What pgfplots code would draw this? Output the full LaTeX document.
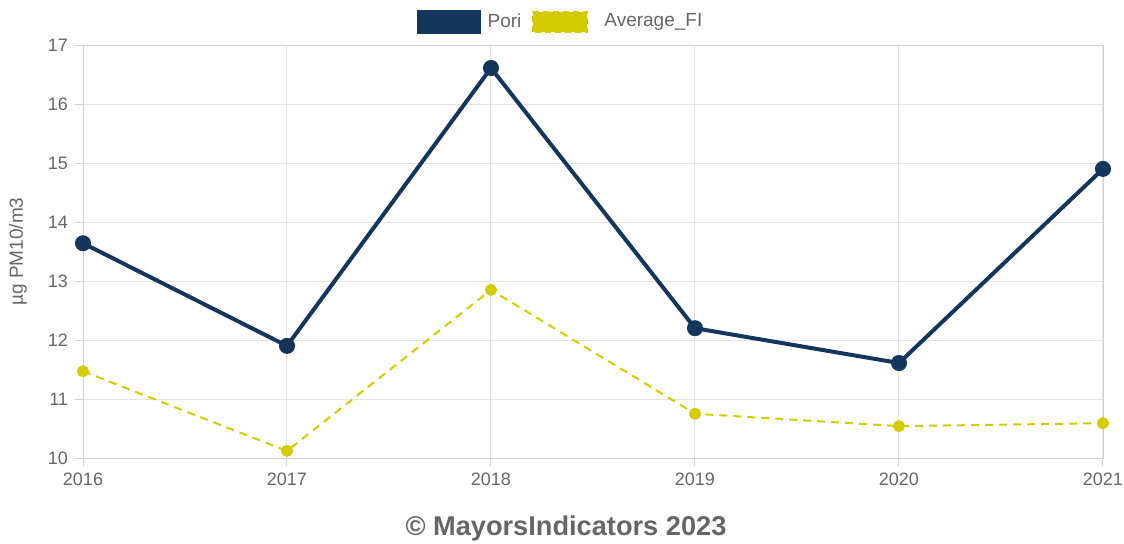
\documentclass[border=0pt]{standalone}
\usepackage{fontspec}
\setmainfont{Liberation Sans}
\usepackage{pgfplots}
\pgfplotsset{compat=1.18}
\definecolor{navy}{HTML}{14365D}
\definecolor{yel}{HTML}{D4CC00}
\definecolor{gridc}{HTML}{E4E4E4}
\definecolor{txt}{HTML}{666666}
\begin{document}
\begin{tikzpicture}
\path[use as bounding box] (0pt,0pt) rectangle (562pt,271.5pt);
\begin{axis}[
  at={(41.5pt,42.5pt)}, anchor=south west,
  scale only axis, width=510pt, height=206.5pt,
  xmin=2016, xmax=2021, ymin=10, ymax=17,
  xtick={2016,...,2021}, ytick={10,...,17},
  xticklabel style={/pgf/number format/1000 sep={}},
  /pgf/number format/assume math mode=true,
  tick label style={font=\fontsize{9}{11}\selectfont, text=txt},
  grid=both, grid style={gridc, line width=0.5pt},
  axis line style={gridc!80!gray, line width=0.5pt},
  tick style={gridc!80!gray, line width=0.5pt},
  tick align=outside, major tick length=4pt,
  xtick pos=bottom, ytick pos=left,
  ylabel={µg PM10/m3},
  every axis y label/.style={at={(axis description cs:-0.0637,0.5)}, rotate=90, anchor=center,
    font=\fontsize{9.5}{11}\selectfont, text=txt},
  legend columns=2,
  legend style={at={(0.5,1.056)}, anchor=center, draw=none, fill=none,
    font=\fontsize{9.5}{11}\selectfont, text=txt, xshift=-15.75pt,
    /tikz/every even column/.append style={column sep=3.5pt}},
  clip=false,
]
\addplot[navy, line width=2pt, mark=*, mark size=3pt, mark options={solid, fill=navy},
  legend image code/.code={\draw[fill=navy, draw=navy] (0pt,-5pt) rectangle (30pt,5pt); \path (31.5pt,0pt);}]
  coordinates {(2016,13.64) (2017,11.90) (2018,16.61) (2019,12.20) (2020,11.61) (2021,14.90)};
\addlegendentry{Pori}
\addplot[yel, line width=1pt, dash pattern=on 4pt off 3pt, mark=*, mark size=2.5pt, mark options={solid, fill=yel},
  legend image code/.code={\draw[fill=yel, draw=yel, line width=1pt, dash pattern=on 3pt off 2pt] (0pt,-5pt) rectangle (27pt,5pt); \path (33pt,0pt);}]
  coordinates {(2016,11.47) (2017,10.12) (2018,12.85) (2019,10.75) (2020,10.54) (2021,10.59)};
\addlegendentry{Average\_FI}
\end{axis}
\node[font=\bfseries\fontsize{13.6}{15}\selectfont, text=txt] at (283pt,7.5pt) {© MayorsIndicators 2023};
\end{tikzpicture}
\end{document}
